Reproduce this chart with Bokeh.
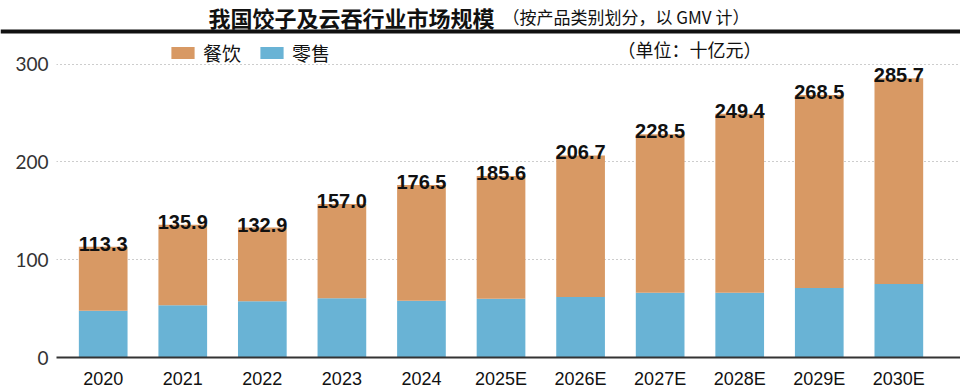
from bokeh.plotting import figure
from bokeh.layouts import column
from bokeh.models import (ColumnDataSource, Range1d, FixedTicker, Label, Legend,
                          LegendItem, Span)
from bokeh.core.properties import value
from bokeh.embed import file_html
from bokeh.resources import INLINE

# ---- data ----
years = ["2020", "2021", "2022", "2023", "2024", "2025E", "2026E", "2027E", "2028E", "2029E", "2030E"]
totals = [113.3, 135.9, 132.9, 157.0, 176.5, 185.6, 206.7, 228.5, 249.4, 268.5, 285.7]
retail = [47.9, 53.4, 57.5, 60.5, 58.1, 60.1, 61.8, 66.2, 66.2, 71.2, 75.3]
catering = [65.4, 82.5, 75.4, 96.5, 118.4, 125.5, 144.9, 162.3, 183.2, 197.3, 210.4]
y_ticks = [0, 100, 200, 300]

title_main = "我国饺子及云吞行业市场规模"
title_sub = "（按产品类别划分，以 GMV 计）"
unit_text = "（单位：十亿元）"
series_names = ["餐饮", "零售"]

ORANGE = "#D89964"
BLUE = "#69B3D5"
CJK = "Noto Sans CJK SC"

W = 960
HEAD_H = 36
MAIN_H = 391 - HEAD_H

# ---- header: title + thick rule across the full width ----
head = figure(width=W, height=HEAD_H, output_backend="svg", toolbar_location=None,
              x_range=Range1d(0, W), y_range=Range1d(0, HEAD_H),
              x_axis_type=None, y_axis_type=None,
              min_border=0, min_border_left=0, min_border_right=0,
              min_border_top=0, min_border_bottom=0)
head.frame_align = False
head.outline_line_color = None
head.xgrid.visible = False
head.ygrid.visible = False
head.add_layout(Label(x=208, y=20, text=title_main, text_font=CJK,
                      text_font_size="22px", text_font_style="bold",
                      text_baseline="middle", text_align="left",
                      text_color="#111111"))
head.add_layout(Label(x=502, y=20, text=title_sub, text_font=CJK,
                      text_font_size="17px", text_baseline="middle",
                      text_align="left", text_color="#111111"))
head.add_layout(Span(location=5, dimension="width", line_color="#111111",
                     line_width=4))

# ---- main chart ----
xs = list(range(len(years)))
src = ColumnDataSource(dict(x=xs, years=years, totals=totals, retail=retail,
                            catering=catering,
                            labels=[f"{t:.1f}" for t in totals]))

frame_h = MAIN_H - 31
p = figure(width=W, height=MAIN_H, output_backend="svg", toolbar_location=None,
           x_range=Range1d(-0.587, 10.775), y_range=Range1d(0, frame_h / 0.9867),
           min_border_left=56, min_border_right=0, min_border_top=0,
           min_border_bottom=31)
p.frame_align = False
p.outline_line_color = None
p.background_fill_color = "white"
p.border_fill_color = "white"

rs = p.vbar_stack(["retail", "catering"], x="x", width=0.612, source=src,
                  fill_color=[BLUE, ORANGE], line_color=None)

p.text(x="x", y="totals", text="labels", source=src, text_align="center",
       text_baseline="alphabetic", y_offset=-3,
       text_font=value("Liberation Sans"), text_font_size="20px",
       text_font_style="bold", text_color="#111111")

p.xaxis.ticker = FixedTicker(ticks=xs)
p.xaxis.major_label_overrides = {i: y for i, y in enumerate(years)}
p.xaxis.major_tick_out = 0
p.xaxis.major_tick_in = 0
p.xaxis.minor_tick_out = 0
p.xaxis.axis_line_color = "#333333"
p.xaxis.axis_line_width = 2
p.xaxis.major_label_standoff = 11
p.xaxis.major_label_text_font = "Liberation Sans"
p.xaxis.major_label_text_font_size = "18px"
p.xaxis.major_label_text_color = "#111111"

p.yaxis.ticker = FixedTicker(ticks=y_ticks)
p.yaxis.major_tick_out = 0
p.yaxis.major_tick_in = 0
p.yaxis.minor_tick_out = 0
p.yaxis.axis_line_color = None
p.yaxis.major_label_standoff = 8
p.yaxis.major_label_text_font = "Lato"
p.yaxis.major_label_text_font_size = "19px"
p.yaxis.major_label_text_color = "#333333"

p.xgrid.grid_line_color = None
p.ygrid.ticker = FixedTicker(ticks=y_ticks)
p.ygrid.grid_line_color = "#9a9a9a"
p.ygrid.grid_line_dash = "1 3"
p.ygrid.grid_line_width = 1

p.add_layout(Label(x=7.37, y=315.2, text=unit_text, text_font=CJK,
                   text_font_size="18px", text_baseline="middle",
                   text_align="center", text_color="#111111"))

legend = Legend(items=[LegendItem(label=series_names[0], renderers=[rs[1]]),
                       LegendItem(label=series_names[1], renderers=[rs[0]])],
                orientation="horizontal", location=(112, 291),
                glyph_width=29, glyph_height=15, label_height=15,
                label_standoff=6, spacing=16, padding=0, margin=0,
                border_line_color=None, background_fill_alpha=0,
                label_text_font=CJK, label_text_font_size="19px",
                label_text_color="#111111")
p.add_layout(legend, "center")

layout = column(head, p, spacing=0)
open("out.html", "w").write(file_html(layout, INLINE))
